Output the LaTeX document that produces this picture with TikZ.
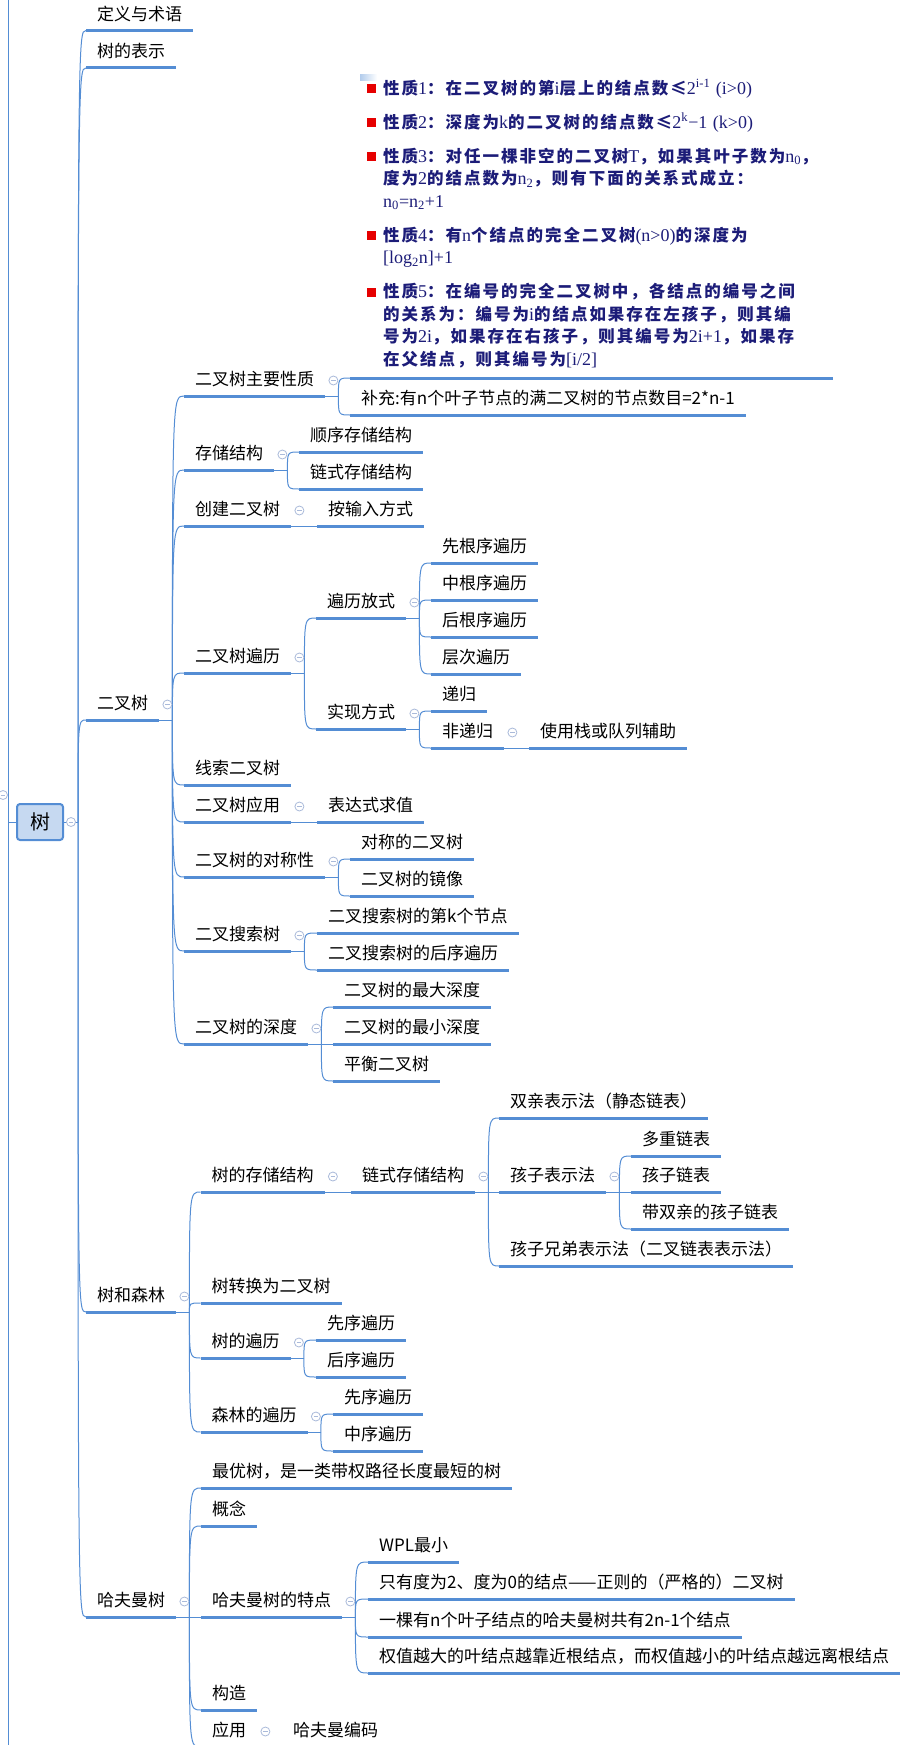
\documentclass[tikz,border=0pt]{standalone}
\usepackage{fontspec}
\setmainfont{Noto Sans CJK SC}
\newfontfamily\propfont{Noto Sans CJK SC}[LetterSpace=12]
\newfontfamily\snfont{Liberation Serif}
\definecolor{linec}{RGB}{84,141,212}
\definecolor{rootfill}{RGB}{198,217,241}
\definecolor{foldc}{RGB}{170,186,218}
\definecolor{propc}{RGB}{28,28,120}
\definecolor{bulred}{RGB}{230,0,0}
\newcommand{\sn}[1]{{\snfont\mdseries\fontsize{18}{22.5}\selectfont #1}}
\newcommand{\bul}{\hspace*{17pt}\textcolor{bulred}{\rule[1pt]{9pt}{9pt}}\hspace{7pt}}
\newcommand{\cont}{\hspace*{33pt}}
\newcommand{\fold}[1]{\node[fold] (#1f) at ([xshift=8pt,yshift=15.5pt]#1.south east) {};}

\begin{document}
\begin{tikzpicture}[x=1pt,y=-1pt,
    topic/.style={anchor=south west,font=\fontsize{17}{20}\selectfont,inner xsep=11pt,inner ysep=6pt,
                  text height=13pt,text depth=4pt,
                  append after command={(\tikzlastnode.south west) edge[ul] (\tikzlastnode.south east)}},
    props/.style={anchor=south west,inner xsep=0pt,inner ysep=10pt,text width=560pt,align=left,text=propc,
                  font=\propfont\bfseries\fontsize{16.5}{22.5}\selectfont},
    ul/.style={draw=linec,line width=3pt},
    thin/.style={draw=linec,line width=1pt},
    br/.style={draw=linec,line width=1pt,to path={.. controls (\tikztostart |- \tikztotarget) .. (\tikztotarget)}},
    fold/.style={circle,draw=foldc,fill=white,line width=0.8pt,minimum size=9pt,inner sep=0pt,
                 path picture={\draw[foldc,line width=0.8pt] ([xshift=-2.2pt]path picture bounding box.center)
                               -- ([xshift=2.2pt]path picture bounding box.center);}},
    rootbox/.style={rectangle,rounded corners=3pt,draw=linec,line width=2pt,fill=rootfill,
                    minimum width=46pt,minimum height=36pt,font=\fontsize{20}{24}\selectfont}]
  \useasboundingbox (0,0) rectangle (914,1745);
  % spine coming from the parent map
  \coordinate (outer) at (8,822);
  \draw[thin] (8,0) -- (8,1745);
  \node[rootbox] (root) at (40,822) {树};
  \draw[thin] (outer) -- (root.west);
  \coordinate (rj) at ([xshift=14pt]root.east);
  \draw[thin] (root.east) -- (rj);

  % first level
  \node[topic] (def) at (86,30.5) {定义与术语};
  \node[topic] (rep) at (86,68) {树的表示};
  \node[topic] (bt) at (86,720) {二叉树};
  \node[topic] (forest) at (86,1312) {树和森林};
  \node[topic] (huff) at (86,1617) {哈夫曼树};
  \draw[br] (rj) to (def.south west); \draw[br] (rj) to (rep.south west);
  \draw[br] (rj) to (bt.south west); \draw[br] (rj) to (forest.south west);
  \draw[br] (rj) to (huff.south west);

  % binary tree
  \coordinate (btj) at ([xshift=13pt]bt.south east);
  \draw[thin] (bt.south east) -- (btj);
  \node[topic] (btprop) at (184,396) {二叉树主要性质};
  \node[topic] (btstore) at (184,470) {存储结构};
  \node[topic] (btmake) at (184,526) {创建二叉树};
  \node[topic] (bttrav) at (184,673) {二叉树遍历};
  \node[topic] (btthread) at (184,785) {线索二叉树};
  \node[topic] (btuse) at (184,822) {二叉树应用};
  \node[topic] (btsym) at (184,877) {二叉树的对称性};
  \node[topic] (bst) at (184,951) {二叉搜索树};
  \node[topic] (btdepth) at (184,1044) {二叉树的深度};
  \draw[br] (btj) to (btprop.south west); \draw[br] (btj) to (btstore.south west);
  \draw[br] (btj) to (btmake.south west); \draw[br] (btj) to (bttrav.south west);
  \draw[br] (btj) to (btthread.south west); \draw[br] (btj) to (btuse.south west);
  \draw[br] (btj) to (btsym.south west); \draw[br] (btj) to (bst.south west);
  \draw[br] (btj) to (btdepth.south west);

  % properties
  \shade[left color=linec!45,right color=white] (360,75) rectangle (377,80);
  \node[props] (prop) at (350,378) {%
    \bul 性质\sn{1}：在二叉树的第\sn{i}层上的结点数≤\sn{2\textsuperscript{i-1}\ (i>0)}\\[11.5pt]
    \bul 性质\sn{2}：深度为\sn{k}的二叉树的结点数≤\sn{2\textsuperscript{k}−1\ (k>0)}\\[11.5pt]
    \bul 性质\sn{3}：对任一棵非空的二叉树\sn{T}，如果其叶子数为\sn{n\textsubscript{0}}，\\
    \cont 度为\sn{2}的结点数为\sn{n\textsubscript{2}}，则有下面的关系式成立：\\
    \cont\sn{n\textsubscript{0}=n\textsubscript{2}+1}\\[11.5pt]
    \bul 性质\sn{4}：有\sn{n}个结点的完全二叉树\sn{(n>0)}的深度为\\
    \cont\sn{[log\textsubscript{2}n]+1}\\[11.5pt]
    \bul 性质\sn{5}：在编号的完全二叉树中，各结点的编号之间\\
    \cont 的关系为：编号为\sn{i}的结点如果存在左孩子，则其编\\
    \cont 号为\sn{2i}，如果存在右孩子，则其编号为\sn{2i+1}，如果存\\
    \cont 在父结点，则其编号为\sn{[i/2]}};
  \draw[ul] (prop.south west) -- ++(483,0);
  \node[topic] (extra) at (350,415) {补充:有n个叶子节点的满二叉树的节点数目=2*n-1};
  \coordinate (bpj) at ([xshift=13pt]btprop.south east);
  \draw[thin] (btprop.south east) -- (bpj);
  \draw[br] (bpj) to (prop.south west); \draw[br] (bpj) to (extra.south west);

  % storage
  \node[topic] (seqst) at (299,452) {顺序存储结构};
  \node[topic] (linkst) at (299,489) {链式存储结构};
  \coordinate (bsj) at ([xshift=13pt]btstore.south east);
  \draw[thin] (btstore.south east) -- (bsj);
  \draw[br] (bsj) to (seqst.south west); \draw[br] (bsj) to (linkst.south west);
  \node[topic] (byinput) at (317,526) {按输入方式};
  \draw[thin] (btmake.south east) -- (byinput.south west);

  % traversal
  \node[topic] (travway) at (316,618) {遍历放式};
  \node[topic] (impl) at (316,729) {实现方式};
  \coordinate (btj2) at ([xshift=13pt]bttrav.south east);
  \draw[thin] (bttrav.south east) -- (btj2);
  \draw[br] (btj2) to (travway.south west); \draw[br] (btj2) to (impl.south west);
  \node[topic] (preord) at (431,563) {先根序遍历};
  \node[topic] (inord) at (431,600) {中根序遍历};
  \node[topic] (postord) at (431,637) {后根序遍历};
  \node[topic] (levord) at (431,674) {层次遍历};
  \coordinate (twj) at ([xshift=13pt]travway.south east);
  \draw[thin] (travway.south east) -- (twj);
  \draw[br] (twj) to (preord.south west); \draw[br] (twj) to (inord.south west);
  \draw[br] (twj) to (postord.south west); \draw[br] (twj) to (levord.south west);
  \node[topic] (rec) at (431,711) {递归};
  \node[topic] (nonrec) at (431,748) {非递归};
  \coordinate (imj) at ([xshift=13pt]impl.south east);
  \draw[thin] (impl.south east) -- (imj);
  \draw[br] (imj) to (rec.south west); \draw[br] (imj) to (nonrec.south west);
  \node[topic] (stack) at (529,748) {使用栈或队列辅助};
  \draw[thin] (nonrec.south east) -- (stack.south west);

  % application, symmetry, search tree, depth
  \node[topic] (expr) at (317,822) {表达式求值};
  \draw[thin] (btuse.south east) -- (expr.south west);
  \node[topic] (symbt) at (350,859) {对称的二叉树};
  \node[topic] (mirror) at (350,896) {二叉树的镜像};
  \coordinate (syj) at ([xshift=13pt]btsym.south east);
  \draw[thin] (btsym.south east) -- (syj);
  \draw[br] (syj) to (symbt.south west); \draw[br] (syj) to (mirror.south west);
  \node[topic] (bstk) at (317,933) {二叉搜索树的第k个节点};
  \node[topic] (bstpost) at (317,970) {二叉搜索树的后序遍历};
  \coordinate (bsj2) at ([xshift=13pt]bst.south east);
  \draw[thin] (bst.south east) -- (bsj2);
  \draw[br] (bsj2) to (bstk.south west); \draw[br] (bsj2) to (bstpost.south west);
  \node[topic] (maxd) at (333,1007) {二叉树的最大深度};
  \node[topic] (mind) at (333,1044) {二叉树的最小深度};
  \node[topic] (avl) at (333,1081) {平衡二叉树};
  \coordinate (dpj) at ([xshift=13pt]btdepth.south east);
  \draw[thin] (btdepth.south east) -- (dpj);
  \draw[br] (dpj) to (maxd.south west); \draw[br] (dpj) to (mind.south west);
  \draw[br] (dpj) to (avl.south west);

  % tree and forest
  \coordinate (fj) at ([xshift=13pt]forest.south east);
  \draw[thin] (forest.south east) -- (fj);
  \node[topic] (tstore) at (200.5,1192) {树的存储结构};
  \node[topic] (conv) at (200.5,1303) {树转换为二叉树};
  \node[topic] (ttrav) at (200.5,1358) {树的遍历};
  \node[topic] (ftrav) at (200.5,1432) {森林的遍历};
  \draw[br] (fj) to (tstore.south west); \draw[br] (fj) to (conv.south west);
  \draw[br] (fj) to (ttrav.south west); \draw[br] (fj) to (ftrav.south west);
  \node[topic] (tlink) at (351,1192) {链式存储结构};
  \draw[thin] (tstore.south east) -- (tlink.south west);
  \node[topic] (parrep) at (499,1118) {双亲表示法（静态链表）};
  \node[topic] (chrep) at (499,1192) {孩子表示法};
  \node[topic] (csrep) at (499,1266) {孩子兄弟表示法（二叉链表表示法）};
  \coordinate (tlj) at ([xshift=13pt]tlink.south east);
  \draw[thin] (tlink.south east) -- (tlj);
  \draw[br] (tlj) to (parrep.south west); \draw[br] (tlj) to (chrep.south west);
  \draw[br] (tlj) to (csrep.south west);
  \node[topic] (multi) at (631,1156) {多重链表};
  \node[topic] (clist) at (631,1192) {孩子链表};
  \node[topic] (pclist) at (631,1229) {带双亲的孩子链表};
  \coordinate (crj) at ([xshift=13pt]chrep.south east);
  \draw[thin] (chrep.south east) -- (crj);
  \draw[br] (crj) to (multi.south west); \draw[br] (crj) to (clist.south west);
  \draw[br] (crj) to (pclist.south west);
  \node[topic] (tpre) at (316,1340) {先序遍历};
  \node[topic] (tpost) at (316,1377) {后序遍历};
  \coordinate (ttj) at ([xshift=13pt]ttrav.south east);
  \draw[thin] (ttrav.south east) -- (ttj);
  \draw[br] (ttj) to (tpre.south west); \draw[br] (ttj) to (tpost.south west);
  \node[topic] (fpre) at (333,1414) {先序遍历};
  \node[topic] (fin) at (333,1451) {中序遍历};
  \coordinate (ftj) at ([xshift=13pt]ftrav.south east);
  \draw[thin] (ftrav.south east) -- (ftj);
  \draw[br] (ftj) to (fpre.south west); \draw[br] (ftj) to (fin.south west);

  % huffman tree
  \coordinate (hj) at ([xshift=13pt]huff.south east);
  \draw[thin] (huff.south east) -- (hj);
  \node[topic] (opt) at (201,1488) {最优树，是一类带权路径长度最短的树};
  \node[topic] (concept) at (201,1526) {概念};
  \node[topic] (feat) at (201,1617) {哈夫曼树的特点};
  \node[topic] (build) at (201,1710) {构造};
  \node[topic] (app) at (201,1747) {应用};
  \draw[br] (hj) to (opt.south west); \draw[br] (hj) to (concept.south west);
  \draw[br] (hj) to (feat.south west); \draw[br] (hj) to (build.south west);
  \draw[br] (hj) to (app.south west);
  \node[topic] (wpl) at (368,1562) {WPL最小};
  \node[topic] (deg) at (368,1599) {只有度为2、度为0的结点——正则的（严格的）二叉树};
  \node[topic] (leaves) at (368,1637) {一棵有n个叶子结点的哈夫曼树共有2n-1个结点};
  \node[topic] (weight) at (368,1673) {权值越大的叶结点越靠近根结点，而权值越小的叶结点越远离根结点};
  \coordinate (fej) at ([xshift=13pt]feat.south east);
  \draw[thin] (feat.south east) -- (fej);
  \draw[br] (fej) to (wpl.south west); \draw[br] (fej) to (deg.south west);
  \draw[br] (fej) to (leaves.south west); \draw[br] (fej) to (weight.south west);
  \node[topic] (code) at (282,1747) {哈夫曼编码};
  \draw[thin] (app.south east) -- (code.south west);

  % fold markers
  \node[fold] (outerf) at (3,795) {};
  \node[fold] (rootf) at ([xshift=7pt]root.east) {};
  \fold{bt} \fold{forest} \fold{huff}
  \fold{btprop} \fold{btstore} \fold{btmake} \fold{bttrav} \fold{travway} \fold{impl} \fold{nonrec}
  \fold{btuse} \fold{btsym} \fold{bst} \fold{btdepth}
  \fold{tstore} \fold{tlink} \fold{chrep} \fold{ttrav} \fold{ftrav}
  \fold{feat} \fold{app}
\end{tikzpicture}
\end{document}
